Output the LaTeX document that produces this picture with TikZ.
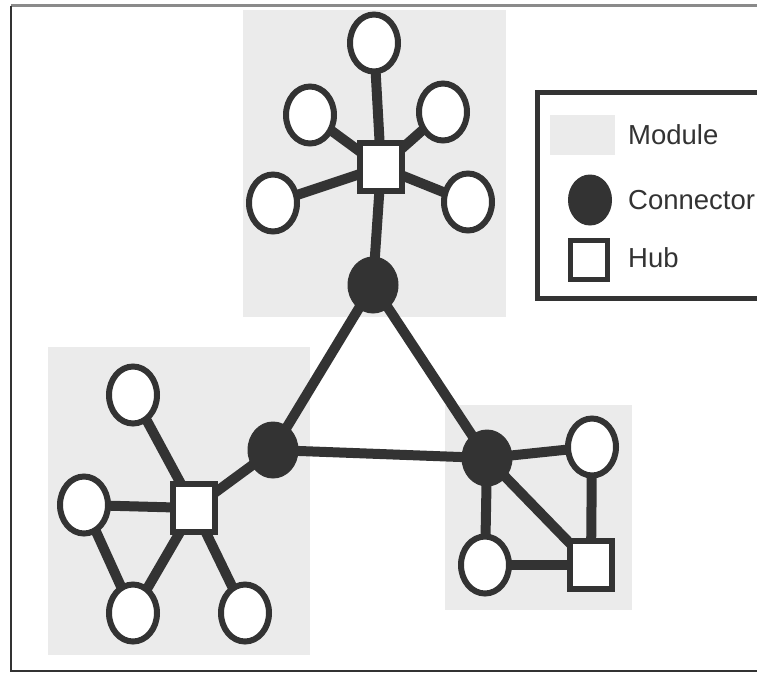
\documentclass[tikz,border=0pt]{standalone}
\usepackage{fontspec}
\setmainfont{Liberation Sans}
\usetikzlibrary{shapes.geometric}
\pgfdeclarelayer{under}
\pgfsetlayers{under,main}
\definecolor{ink}{HTML}{333333}
\definecolor{modgray}{HTML}{EBEBEB}
\definecolor{framegray}{HTML}{8A8A8A}
\begin{document}
\begin{tikzpicture}[x=1pt,y=-1pt,
  leaf/.style={ellipse,draw=ink,fill=white,line width=6pt,minimum width=48pt,minimum height=57pt,inner sep=0pt},
  conn/.style={ellipse,draw=ink,fill=ink,line width=1pt,minimum width=50pt,minimum height=56pt,inner sep=0pt},
  hubbox/.style={rectangle,draw=ink,fill=white,line width=6pt,minimum width=42pt,minimum height=48pt,inner sep=0pt},
  link/.style={draw=ink,line width=10pt},
  module/.style={fill=modgray},
  legtext/.style={anchor=west,inner sep=0pt,text=ink,font=\fontsize{27.5}{30}\selectfont}]
\useasboundingbox (0,0) rectangle (757,673);
\clip (0,0) rectangle (757,673);
% frame
\draw[framegray,line width=2.5pt] (11,5.5) -- (760,5.5);
\draw[ink,line width=2.5pt] (11,5.5) -- (11,671) -- (760,671);
% modules
\begin{pgfonlayer}{under}
\fill[module] (243,10) rectangle (506,317);
\fill[module] (48,347) rectangle (310,655);
\fill[module] (445,405) rectangle (632,610);
\end{pgfonlayer}
% top module
\node[hubbox] (TH) at (381,167) {};
\node[leaf] (T0) at (374,43) {};
\node[leaf] (T1) at (310,115) {};
\node[leaf] (T2) at (443,112) {};
\node[leaf] (T3) at (273,203) {};
\node[leaf] (T4) at (468,202) {};
\node[conn] (TC) at (373,285) {};
% left module
\node[conn] (LC) at (273,450) {};
\node[hubbox] (LH) at (194,508) {};
\node[leaf] (L0) at (133,395) {};
\node[leaf] (L1) at (84,505) {};
\node[leaf] (L2) at (133,613) {};
\node[leaf] (L3) at (245,613) {};
% right module
\node[conn] (RC) at (487,458) {};
\node[leaf] (R0) at (592,447) {};
\node[leaf] (R1) at (485,565) {};
\node[hubbox] (RH) at (591,565) {};
% links
\begin{pgfonlayer}{under}
\foreach \a/\b in {TH/T0,TH/T1,TH/T2,TH/T3,TH/T4,TH/TC,TC/LC,TC/RC,LC/RC,
  LC/LH,LH/L0,LH/L1,LH/L2,LH/L3,L1/L2,RC/R0,RC/R1,RC/RH,R0/RH,R1/RH}
  \draw[link] (\a.center) -- (\b.center);
\end{pgfonlayer}
% legend
\draw[ink,fill=white,line width=5pt] (537,92) rectangle (800,298);
\fill[module] (550,115) rectangle (615,155);
\node[conn,minimum width=43pt,minimum height=50pt] (LgC) at (590,200) {};
\node[hubbox,line width=5pt,minimum width=37pt,minimum height=39pt] (LgH) at (589,260) {};
\node[legtext] (LtM) at (628,135) {Module};
\node[legtext] (LtC) at (628,200) {Connector};
\node[legtext] (LtH) at (628,258) {Hub};
\end{tikzpicture}
\end{document}
